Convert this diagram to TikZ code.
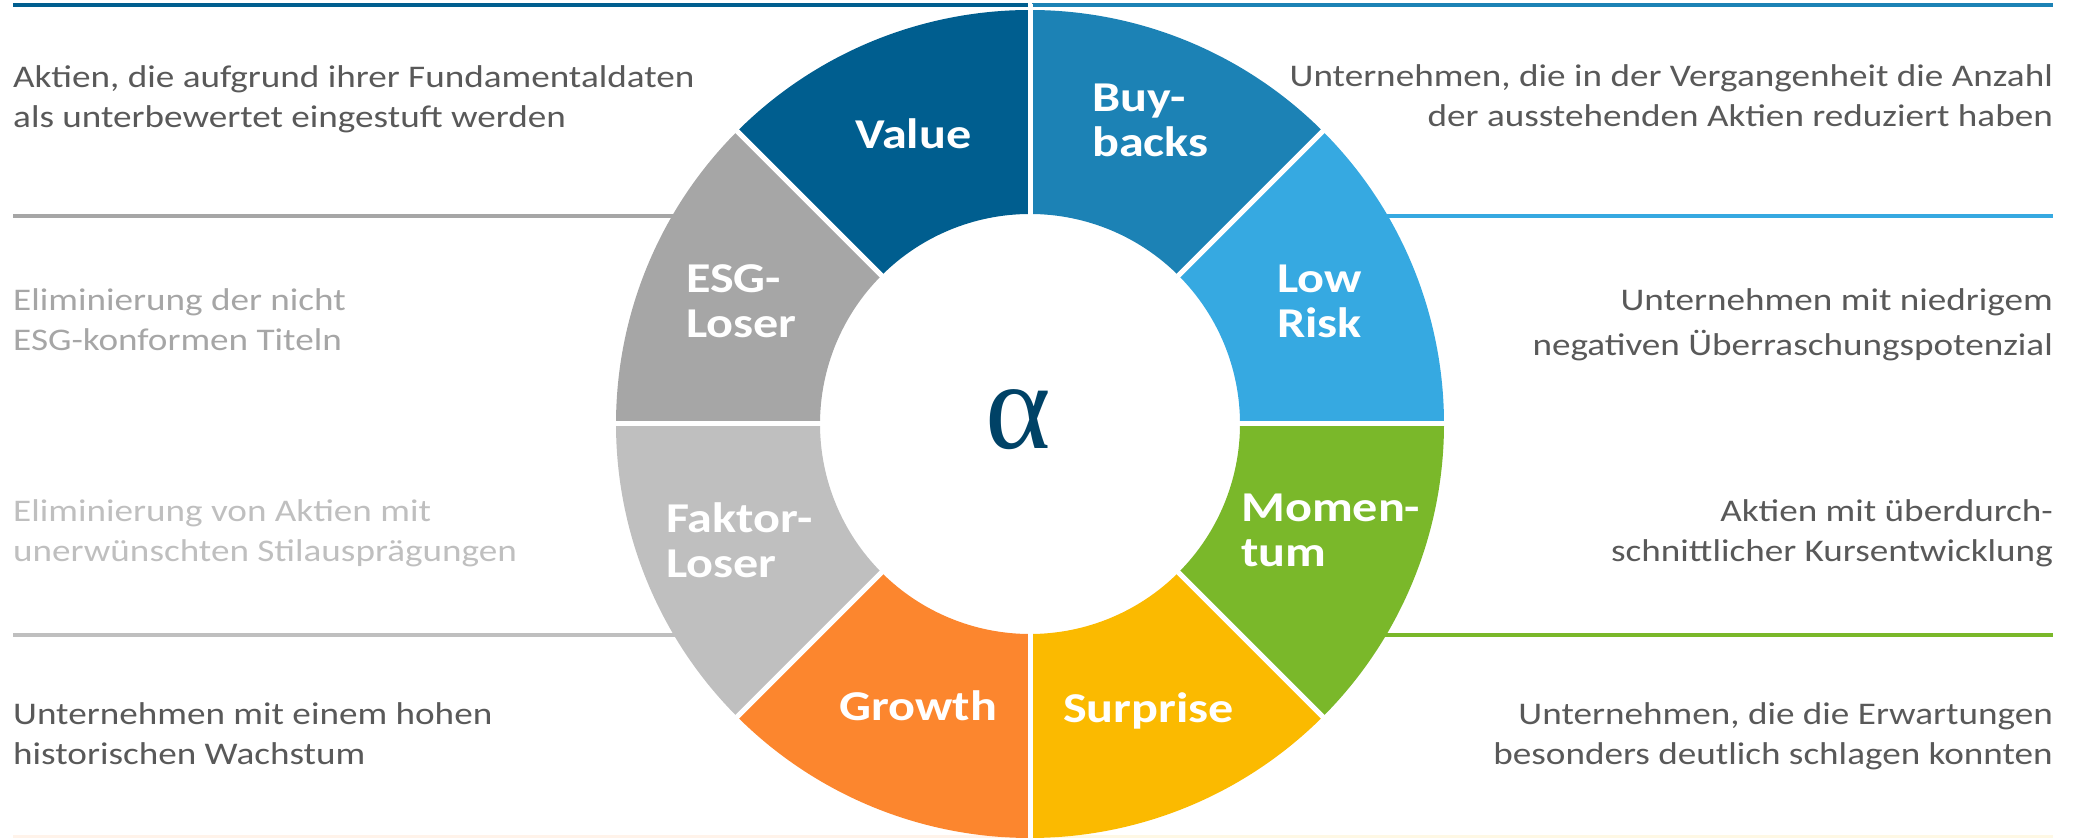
\documentclass[tikz,border=0pt]{standalone}
\usepackage{fontspec}
\setmainfont{Carlito}[FakeStretch = 1.18]
\newfontfamily\alphafont{Liberation Serif}
\usepackage{tikz}

\definecolor{valueblue}{RGB}{0,94,143}
\definecolor{buyblue}{RGB}{28,130,181}
\definecolor{riskblue}{RGB}{54,169,225}
\definecolor{momgreen}{RGB}{122,184,42}
\definecolor{surpyellow}{RGB}{251,186,0}
\definecolor{growthorange}{RGB}{252,134,46}
\definecolor{faktorgray}{RGB}{191,191,191}
\definecolor{esggray}{RGB}{166,166,166}
\definecolor{textgray}{RGB}{89,89,89}
\definecolor{alphablue}{RGB}{0,66,102}

\begin{document}
\begin{tikzpicture}[
    x = 1pt, y = 1pt,
    rule/.style = {line width = 4pt},
    gap/.style = {draw = white, line width = 5pt},
    factor/.style = {text = white,
      inner sep = 0pt,
      align = left,
      anchor = base west,
      font = \bfseries\fontsize{42.5}{45.5}\selectfont},
    note/.style = {text = textgray,
      inner sep = 0pt,
      font = \fontsize{31.5}{40}\selectfont},
    leftnote/.style = {note, align = left, anchor = base west},
    rightnote/.style = {note, align = right, anchor = base east}
    ]
    \useasboundingbox (0, 0) rectangle (2078, 838);

    % rules between the descriptions
    \coordinate (topL) at (13, 833);
    \coordinate (topM) at (1028, 833);
    \coordinate (topN) at (1032, 833);
    \coordinate (topR) at (2053, 833);
    \coordinate (upL) at (13, 622);
    \coordinate (upM) at (674, 622);
    \coordinate (upN) at (1386, 622);
    \coordinate (upR) at (2053, 622);
    \coordinate (lowL) at (13, 203);
    \coordinate (lowM) at (675, 203);
    \coordinate (lowN) at (1385, 203);
    \coordinate (lowR) at (2053, 203);
    \coordinate (botL) at (13, 1);
    \coordinate (botM) at (1005, 1);
    \coordinate (botN) at (1055, 1);
    \coordinate (botR) at (2053, 1);

    \draw [rule, valueblue] (topL) -- (topM);
    \draw [rule, buyblue] (topN) -- (topR);
    \draw [rule, esggray] (upL) -- (upM);
    \draw [rule, riskblue] (upN) -- (upR);
    \draw [rule, faktorgray] (lowL) -- (lowM);
    \draw [rule, momgreen] (lowN) -- (lowR);
    \draw [rule, growthorange!10] (botL) -- (botM);
    \draw [rule, surpyellow!10] (botN) -- (botR);

    % the ring
    \begin{scope}[shift = {(1030, 414)}]
      \fill [riskblue] (0:414) arc [start angle = 0, end angle = 45, radius = 414]
      -- (45:210) arc [start angle = 45, end angle = 0, radius = 210] -- cycle;
      \fill [buyblue] (45:414) arc [start angle = 45, end angle = 90, radius = 414]
      -- (90:210) arc [start angle = 90, end angle = 45, radius = 210] -- cycle;
      \fill [valueblue] (90:414) arc [start angle = 90, end angle = 135, radius = 414]
      -- (135:210) arc [start angle = 135, end angle = 90, radius = 210] -- cycle;
      \fill [esggray] (135:414) arc [start angle = 135, end angle = 180, radius = 414]
      -- (180:210) arc [start angle = 180, end angle = 135, radius = 210] -- cycle;
      \fill [faktorgray] (180:414) arc [start angle = 180, end angle = 225, radius = 414]
      -- (225:210) arc [start angle = 225, end angle = 180, radius = 210] -- cycle;
      \fill [growthorange] (225:414) arc [start angle = 225, end angle = 270, radius = 414]
      -- (270:210) arc [start angle = 270, end angle = 225, radius = 210] -- cycle;
      \fill [surpyellow] (270:414) arc [start angle = 270, end angle = 315, radius = 414]
      -- (315:210) arc [start angle = 315, end angle = 270, radius = 210] -- cycle;
      \fill [momgreen] (315:414) arc [start angle = 315, end angle = 360, radius = 414]
      -- (360:210) arc [start angle = 360, end angle = 315, radius = 210] -- cycle;

      \draw [gap] (0:205) -- (0:420);
      \draw [gap] (45:205) -- (45:420);
      \draw [gap] (90:205) -- (90:420);
      \draw [gap] (135:205) -- (135:420);
      \draw [gap] (180:205) -- (180:420);
      \draw [gap] (225:205) -- (225:420);
      \draw [gap] (270:205) -- (270:420);
      \draw [gap] (315:205) -- (315:420);
    \end{scope}

    \node at (1018, 418) [text = alphablue, inner sep = 0pt,
      font = \alphafont\fontsize{125}{125}\selectfont, name = alpha] {α};

    % factor labels
    \node at (855, 689) [factor, name = value] {Value};
    \node at (1092, 681) [factor, name = buybacks] {Buy-\\backs};
    \node at (1277, 500) [factor, name = lowrisk] {Low\\Risk};
    \node at (1241, 271) [factor, name = momentum] {Momen-\\tum};
    \node at (1063, 115) [factor, name = surprise] {Surprise};
    \node at (839, 117) [factor, name = growth] {Growth};
    \node at (666, 260) [factor, name = faktor] {Faktor-\\Loser};
    \node at (686, 500) [factor, name = esg] {ESG-\\Loser};

    % descriptions
    \node at (13, 710) [leftnote, name = valuenote]
    {Aktien, die aufgrund ihrer Fundamentaldaten\\als unterbewertet eingestuft werden};
    \node at (13, 487) [leftnote, text = esggray, name = esgnote]
    {Eliminierung der nicht\\ESG-konformen Titeln};
    \node at (13, 276) [leftnote, text = faktorgray, name = faktornote]
    {Eliminierung von Aktien mit\\unerwünschten Stilausprägungen};
    \node at (13, 73) [leftnote, name = growthnote]
    {Unternehmen mit einem hohen\\historischen Wachstum};
    \node at (2053, 711) [rightnote, name = buybacknote]
    {Unternehmen, die in der Vergangenheit die Anzahl\\der ausstehenden Aktien reduziert haben};
    \node at (2053, 482) [rightnote, name = risknote]
    {Unternehmen mit niedrigem\\[5pt]negativen Überraschungspotenzial};
    \node at (2053, 276) [rightnote, name = momentumnote]
    {Aktien mit überdurch-\\schnittlicher Kursentwicklung};
    \node at (2053, 73) [rightnote, name = surprisenote]
    {Unternehmen, die die Erwartungen\\besonders deutlich schlagen konnten};
  \end{tikzpicture}
\end{document}
